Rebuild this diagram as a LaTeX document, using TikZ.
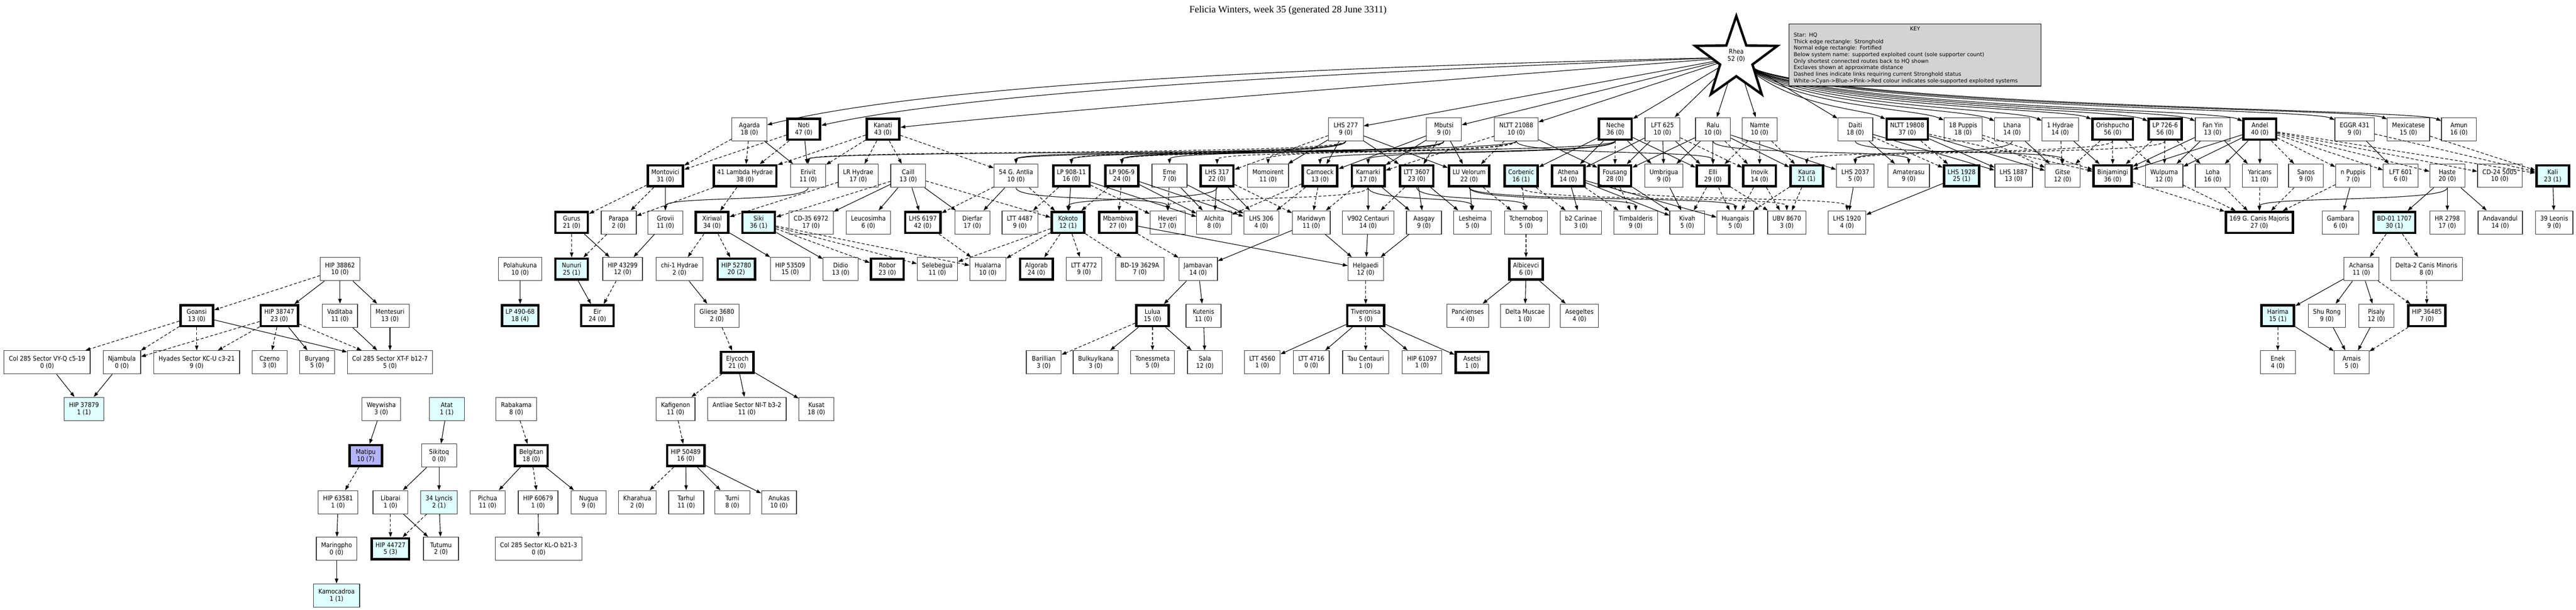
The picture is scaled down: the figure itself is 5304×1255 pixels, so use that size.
\documentclass[tikz,border=0pt]{standalone}
\usepackage{fontspec}
\usetikzlibrary{arrows.meta,calc}
\IfFontExistsTF{DejaVu Sans Condensed}{\newfontfamily\nodefam{DejaVu Sans Condensed}}{\newfontfamily\nodefam[FakeStretch=0.9]{DejaVu Sans}}
\newfontfamily\keyfam{DejaVu Sans}
\newfontfamily\titlefam{Liberation Serif}
\definecolor{lcyan}{HTML}{E0FFFF}
\definecolor{mblue}{HTML}{B4B4FA}
\definecolor{keygray}{HTML}{D3D3D3}
\tikzset{
  sys/.style={draw=black!80, line width=1.3pt, fill=white, minimum width=72pt, minimum height=48pt, inner xsep=10pt, inner ysep=2pt, align=center, font=\nodefam\fontsize{13.3}{14.5}\selectfont},
  sh/.style={sys, draw=black, line width=5pt, minimum width=67pt, minimum height=43pt, inner xsep=7.5pt, outer sep=2.5pt},
  cy/.style={fill=lcyan},
  ln/.style={-{Triangle[length=10pt,width=7pt]}, line width=1.2pt, black},
  dl/.style={ln, dash pattern=on 6pt off 4pt},
}
\newcommand\Es[2]{\draw[ln] (#1) -- (#2);}
\newcommand\Ed[2]{\draw[dl] (#1) -- (#2);}
\newcommand\Cs[2]{\draw[ln] (#1.south) .. controls ($(#1.south)+(0,30)$) and ($(#2.north)+(0,-30)$) .. (#2.north);}
\newcommand\Cd[2]{\draw[dl] (#1.south) .. controls ($(#1.south)+(0,30)$) and ($(#2.north)+(0,-30)$) .. (#2.north);}
\begin{document}
\begin{tikzpicture}[x=1pt,y=-1pt]
\fill[white] (0,0) rectangle (5304,1255);
\useasboundingbox (0,0) rectangle (5304,1255);
\node[font=\titlefam\fontsize{20}{24}\selectfont] (title) at (2652,21) {Felicia Winters, week 35 (generated 28 June 3311)};
\node[inner sep=0pt, minimum size=16pt] (rhea) at (3575,118) {};
% row 1
\node[sys] (agarda) at (1543,266) {Agarda\\18 (0)};
\node[sh] (noti) at (1655,266) {Noti\\47 (0)};
\node[sh] (kanati) at (1818,266) {Kanati\\43 (0)};
\node[sys] (lhsb) at (2771,266) {LHS 277\\9 (0)};
\node[sys] (mbutsi) at (2973,266) {Mbutsi\\9 (0)};
\node[sys] (nltta) at (3122,266) {NLTT 21088\\10 (0)};
\node[sh] (neche) at (3326,266) {Neche\\36 (0)};
\node[sys] (lfta) at (3423,266) {LFT 625\\10 (0)};
\node[sys] (ralu) at (3527,266) {Ralu\\10 (0)};
\node[sys] (namte) at (3623,266) {Namte\\10 (0)};
\node[sys] (daiti) at (3820,266) {Daiti\\18 (0)};
\node[sh] (nlttb) at (3927,266) {NLTT 19808\\37 (0)};
\node[sys] (pupp) at (4042,266) {18 Puppis\\18 (0)};
\node[sys] (lhana) at (4143,266) {Lhana\\14 (0)};
\node[sys] (hyda) at (4242,266) {1 Hydrae\\14 (0)};
\node[sh] (orish) at (4350,266) {Orishpucho\\56 (0)};
\node[sh] (lpsev) at (4458,266) {LP 726-6\\56 (0)};
\node[sys] (fanyin) at (4556,266) {Fan Yin\\13 (0)};
\node[sh] (andel) at (4653,266) {Andel\\40 (0)};
\node[sys] (eggr) at (4848,266) {EGGR 431\\9 (0)};
\node[sys] (mexi) at (4959,266) {Mexicatese\\15 (0)};
\node[sys] (amun) at (5063,266) {Amun\\16 (0)};
% row 2
\node[sh] (montovici) at (1370,362) {Montovici\\31 (0)};
\node[sh] (lambda) at (1534,362) {41 Lambda Hydrae\\38 (0)};
\node[sys] (erivit) at (1664,362) {Erivit\\11 (0)};
\node[sys] (lrhya) at (1767,362) {LR Hydrae\\17 (0)};
\node[sys] (caill) at (1870,362) {Caill\\13 (0)};
\node[sys] (antlia) at (2092,362) {54 G. Antlia\\10 (0)};
\node[sh] (lpa) at (2206,362) {LP 908-11\\16 (0)};
\node[sh] (lpb) at (2310,362) {LP 906-9\\24 (0)};
\node[sys] (eme) at (2408,362) {Eme\\7 (0)};
\node[sh] (lhsc) at (2506,362) {LHS 317\\22 (0)};
\node[sys] (momo) at (2611,362) {Momoirent\\11 (0)};
\node[sh] (carn) at (2718,362) {Carnoeck\\13 (0)};
\node[sh] (karn) at (2817,362) {Karnarki\\17 (0)};
\node[sh] (lttc) at (2917,362) {LTT 3607\\23 (0)};
\node[sh] (luvel) at (3025,362) {LU Velorum\\22 (0)};
\node[sh,cy] (corb) at (3132,362) {Corbenic\\16 (1)};
\node[sh] (athena) at (3229,362) {Athena\\14 (0)};
\node[sh] (fousang) at (3325,362) {Fousang\\28 (0)};
\node[sys] (umbr) at (3426,362) {Umbrigua\\9 (0)};
\node[sh] (elli) at (3527,362) {Elli\\29 (0)};
\node[sh] (inovik) at (3623,362) {Inovik\\14 (0)};
\node[sh,cy] (kaura) at (3720,362) {Kaura\\21 (1)};
\node[sys] (lhsd) at (3820,362) {LHS 2037\\5 (0)};
\node[sys] (amat) at (3930,362) {Amaterasu\\9 (0)};
\node[sh,cy] (lhsf) at (4039,362) {LHS 1928\\25 (1)};
\node[sys] (lhse) at (4146,362) {LHS 1887\\13 (0)};
\node[sys] (gitse) at (4247,362) {Gitse\\12 (0)};
\node[sh] (binj) at (4350,362) {Binjamingi\\36 (0)};
\node[sys] (wulp) at (4456,362) {Wulpurna\\12 (0)};
\node[sys] (loha) at (4556,362) {Loha\\16 (0)};
\node[sys] (yari) at (4653,362) {Yaricans\\11 (0)};
\node[sys] (sanos) at (4748,362) {Sanos\\9 (0)};
\node[sys] (npup) at (4845,362) {n Puppis\\7 (0)};
\node[sys] (lftb) at (4943,362) {LFT 601\\6 (0)};
\node[sys] (haste) at (5039,362) {Haste\\20 (0)};
\node[sys] (cdb) at (5147,362) {CD-24 5005\\10 (0)};
\node[sh,cy] (kali) at (5256,362) {Kali\\23 (1)};
% row 3
\node[sh] (gurus) at (1177,458) {Gurus\\21 (0)};
\node[sys] (parapa) at (1274,458) {Parapa\\2 (0)};
\node[sys] (grovii) at (1370,458) {Grovii\\11 (0)};
\node[sh] (xiriwal) at (1466,458) {Xiriwal\\34 (0)};
\node[sh,cy] (siki) at (1562,458) {Siki\\36 (1)};
\node[sys] (cda) at (1670,458) {CD-35 6972\\17 (0)};
\node[sys] (leuco) at (1788,458) {Leucosimha\\6 (0)};
\node[sh] (lhsg) at (1900,458) {LHS 6197\\42 (0)};
\node[sys] (dierfar) at (2002,458) {Dierfar\\17 (0)};
\node[sys] (lttd) at (2100,458) {LTT 4487\\9 (0)};
\node[sh,cy] (kokoto) at (2199,458) {Kokoto\\12 (1)};
\node[sh] (mbamb) at (2302,458) {Mbambiva\\27 (0)};
\node[sys] (heveri) at (2404,458) {Heveri\\17 (0)};
\node[sys] (alchita) at (2500,458) {Alchita\\8 (0)};
\node[sys] (lhsh) at (2597,458) {LHS 306\\4 (0)};
\node[sys] (marid) at (2700,458) {Maridwyn\\11 (0)};
\node[sys] (vcen) at (2817,458) {V902 Centauri\\14 (0)};
\node[sys] (aasgay) at (2932,458) {Aasgay\\9 (0)};
\node[sys] (lesh) at (3032,458) {Lesheima\\5 (0)};
\node[sys] (tcher) at (3142,458) {Tchernobog\\5 (0)};
\node[sys] (btwo) at (3255,458) {b2 Carinae\\3 (0)};
\node[sys] (timb) at (3368,458) {Timbalderis\\9 (0)};
\node[sys] (kivah) at (3474,458) {Kivah\\5 (0)};
\node[sys] (huang) at (3573,458) {Huangais\\5 (0)};
\node[sys] (ubv) at (3679,458) {UBV 8670\\3 (0)};
\node[sys] (lhsi) at (3803,458) {LHS 1920\\4 (0)};
\node[sh] (cma) at (4652,458) {169 G. Canis Majoris\\27 (0)};
\node[sys] (gamb) at (4819,458) {Gambara\\6 (0)};
\node[sh,cy] (bdo) at (4930,458) {BD-01 1707\\30 (1)};
\node[sys] (hr) at (5039,458) {HR 2798\\17 (0)};
\node[sys] (andav) at (5148,458) {Andavandul\\14 (0)};
\node[sys] (leo) at (5259,458) {39 Leonis\\9 (0)};
% row 4
\node[sys] (hipa) at (700,554) {HIP 38862\\10 (0)};
\node[sys] (polah) at (1071,554) {Polahukuna\\10 (0)};
\node[sh,cy] (nunuri) at (1177,554) {Nunuri\\25 (1)};
\node[sys] (hipb) at (1282,554) {HIP 43299\\12 (0)};
\node[sys] (chi) at (1399,554) {chi-1 Hydrae\\2 (0)};
\node[sh,cy] (hipc) at (1516,554) {HIP 52780\\20 (2)};
\node[sys] (hipd) at (1627,554) {HIP 53509\\15 (0)};
\node[sys] (didio) at (1731,554) {Didio\\13 (0)};
\node[sh] (robor) at (1827,554) {Robor\\23 (0)};
\node[sys] (seleb) at (1930,554) {Selebegua\\11 (0)};
\node[sys] (hual) at (2034,554) {Hualarna\\10 (0)};
\node[sh] (algorab) at (2134,554) {Algorab\\24 (0)};
\node[sys] (ltte) at (2232,554) {LTT 4772\\9 (0)};
\node[sys] (bdn) at (2347,554) {BD-19 3629A\\7 (0)};
\node[sys] (jamb) at (2467,554) {Jambavan\\14 (0)};
\node[sys] (helg) at (2812,554) {Helgaedi\\12 (0)};
\node[sh] (albi) at (3142,554) {Albicevci\\6 (0)};
\node[sys] (achansa) at (4862,554) {Achansa\\11 (0)};
\node[sys] (deltacmi) at (4996,554) {Delta-2 Canis Minoris\\8 (0)};
% row 5
\node[sh] (goansi) at (405,650) {Goansi\\13 (0)};
\node[sh] (hipe) at (575,650) {HIP 38747\\23 (0)};
\node[sys] (vadi) at (700,650) {Vaditaba\\11 (0)};
\node[sys] (mente) at (803,650) {Mentesuri\\13 (0)};
\node[sh,cy] (lpc) at (1071,650) {LP 490-68\\18 (4)};
\node[sh] (eir) at (1230,650) {Eir\\24 (0)};
\node[sys] (gliese) at (1476,650) {Gliese 3680\\2 (0)};
\node[sh] (lulua) at (2373,650) {Lulua\\15 (0)};
\node[sys] (kutenis) at (2478,650) {Kutenis\\11 (0)};
\node[sh] (tiver) at (2812,650) {Tiveronisa\\5 (0)};
\node[sys] (panc) at (3022,650) {Pancienses\\4 (0)};
\node[sys] (delmus) at (3140,650) {Delta Muscae\\1 (0)};
\node[sys] (aseg) at (3252,650) {Asegeltes\\4 (0)};
\node[sh,cy] (harima) at (4690,650) {Harima\\15 (1)};
\node[sys] (shurong) at (4791,650) {Shu Rong\\9 (0)};
\node[sys] (pisaly) at (4893,650) {Pisaly\\12 (0)};
\node[sh] (hipf) at (4997,650) {HIP 36485\\7 (0)};
% row 6
\node[sys] (colvy) at (97,746) {Col 285 Sector VY-Q c5-19\\0 (0)};
\node[sys] (njamb) at (251,746) {Njambula\\0 (0)};
\node[sys] (hyades) at (405,746) {Hyades Sector KC-U c3-21\\9 (0)};
\node[sys] (czerno) at (555,746) {Czerno\\3 (0)};
\node[sys] (buryang) at (653,746) {Buryang\\5 (0)};
\node[sys] (colxt) at (803,746) {Col 285 Sector XT-F b12-7\\5 (0)};
\node[sh] (elycoch) at (1518,746) {Elycoch\\21 (0)};
\node[sys] (barill) at (2149,746) {Barillian\\3 (0)};
\node[sys] (bulk) at (2256,746) {Bulkuylkana\\3 (0)};
\node[sys] (toness) at (2373,746) {Tonessmeta\\5 (0)};
\node[sys] (sala) at (2481,746) {Sala\\12 (0)};
\node[sys] (lttf) at (2599,746) {LTT 4560\\1 (0)};
\node[sys] (lttg) at (2700,746) {LTT 4716\\0 (0)};
\node[sys] (taucen) at (2812,746) {Tau Centauri\\1 (0)};
\node[sys] (hipg) at (2928,746) {HIP 61097\\1 (0)};
\node[sh] (asetsi) at (3031,746) {Asetsi\\1 (0)};
\node[sys] (enek) at (4690,746) {Enek\\4 (0)};
\node[sys] (arnais) at (4842,746) {Arnais\\5 (0)};
% row 7
\node[sys,cy] (hipj) at (173,842) {HIP 37879\\1 (1)};
\node[sys] (weyw) at (785,842) {Weywisha\\3 (0)};
\node[sys,cy] (atat) at (920,842) {Atat\\1 (1)};
\node[sys] (rabak) at (1063,842) {Rabakama\\8 (0)};
\node[sys] (kafig) at (1391,842) {Kafigenon\\11 (0)};
\node[sys] (antni) at (1538,842) {Antliae Sector NI-T b3-2\\11 (0)};
\node[sys] (kusat) at (1681,842) {Kusat\\18 (0)};
% row 8
\node[sh,fill=mblue] (matipu) at (753,938) {Matipu\\10 (7)};
\node[sys] (sikitoq) at (904,938) {Sikitoq\\0 (0)};
\node[sh] (belgitan) at (1094,938) {Belgitan\\18 (0)};
\node[sh] (hipk) at (1412,938) {HIP 50489\\16 (0)};
% row 9
\node[sys] (hipl) at (696,1034) {HIP 63581\\1 (0)};
\node[sys] (libarai) at (804,1034) {Libarai\\1 (0)};
\node[sys,cy] (lyncis) at (904,1034) {34 Lyncis\\2 (1)};
\node[sys] (pichua) at (1004,1034) {Pichua\\11 (0)};
\node[sys] (hipm) at (1108,1034) {HIP 60679\\1 (0)};
\node[sys] (nugua) at (1212,1034) {Nugua\\9 (0)};
\node[sys] (khara) at (1312,1034) {Kharahua\\2 (0)};
\node[sys] (tarhul) at (1413,1034) {Tarhul\\11 (0)};
\node[sys] (turni) at (1508,1034) {Turni\\8 (0)};
\node[sys] (anukas) at (1604,1034) {Anukas\\10 (0)};
% row 10
\node[sys] (maring) at (693,1130) {Maringpho\\0 (0)};
\node[sh,cy] (hipn) at (804,1130) {HIP 44727\\5 (3)};
\node[sys] (tutumu) at (908,1130) {Tutumu\\2 (0)};
\node[sys] (colkl) at (1109,1130) {Col 285 Sector KL-O b21-3\\0 (0)};
% row 11
\node[sys,cy] (kamo) at (693,1226) {Kamocadroa\\1 (1)};
% Rhea edges
\draw[ln] (rhea) .. controls (2600,140) and (1900,178) .. (agarda);
\draw[ln] (rhea) .. controls (2700,150) and (2000,190) .. (noti);
\draw[ln] (rhea) .. controls (2900,170) and (2150,230) .. (kanati);
\foreach \t in {lhsb,mbutsi,nltta,neche,lfta,ralu,namte,daiti} \draw[ln] (rhea) -- (\t);
\foreach \t/\xx in {nlttb/3927,pupp/4042,lhana/4143,hyda/4242,orish/4350,lpsev/4458,fanyin/4556,andel/4653,eggr/4848,mexi/4959,amun/5063}
  \draw[ln] (rhea) .. controls (3680,222) and (\xx-95,222) .. (\t);
% star
\draw[line width=5pt, line join=miter, fill=white] (3575,33) -- (3595.6,93.7) -- (3659.6,94.5) -- (3608.3,132.8) -- (3627.3,194) -- (3575,157) -- (3522.7,194) -- (3541.7,132.8) -- (3490.4,94.5) -- (3554.4,93.7) -- cycle;
\node[align=center, font=\nodefam\fontsize{13.3}{14.5}\selectfont] (rhealabel) at (3575,114) {Rhea\\52 (0)};
% key
\node[draw=black, line width=1.3pt, fill=keygray, anchor=north west, text width=500pt, inner xsep=9.5pt, inner ysep=5pt, align=left, font=\keyfam\fontsize{11}{13.4}\selectfont] (key) at (3683,49) {\makebox[500pt][c]{KEY}\\Star: HQ\\Thick edge rectangle: Stronghold\\Normal edge rectangle: Fortified\\Below system name: supported exploited count (sole supporter count)\\Only shortest connected routes back to HQ shown\\Exclaves shown at approximate distance\\Dashed lines indicate links requiring current Stronghold status\\White->Cyan->Blue->Pink->Red colour indicates sole-supported exploited systems};
% row1 -> row2
\Ed{agarda}{montovici} \Ed{agarda}{lambda} \Es{agarda}{erivit}
\Ed{noti}{montovici} \Ed{noti}{lambda} \Es{noti}{erivit}
\Ed{kanati}{lambda} \Ed{kanati}{erivit} \Ed{kanati}{lrhya} \Ed{kanati}{caill} \Ed{kanati}{antlia}
\Cd{lhsb}{erivit} \Cs{lhsb}{antlia} \Cd{lhsb}{lpa} \Cs{lhsb}{lpb} \Ed{lhsb}{lhsc} \Es{lhsb}{momo} \Es{lhsb}{carn} \Es{lhsb}{lttc} \Es{lhsb}{luvel}
\Cs{mbutsi}{lpa} \Cs{mbutsi}{lpb} \Cs{mbutsi}{eme} \Cd{mbutsi}{momo} \Es{mbutsi}{carn} \Es{mbutsi}{karn} \Ed{mbutsi}{lttc} \Es{mbutsi}{luvel}
\Cs{nltta}{erivit} \Cd{nltta}{lpb} \Cd{nltta}{lhsc} \Ed{nltta}{karn} \Ed{nltta}{luvel} \Es{nltta}{fousang} \Cs{nltta}{elli}
\Cs{neche}{antlia} \Cs{neche}{carn} \Cs{neche}{karn} \Es{neche}{corb} \Es{neche}{athena} \Ed{neche}{fousang} \Es{neche}{umbr} \Es{neche}{elli}
\Es{lfta}{fousang} \Es{lfta}{umbr} \Es{lfta}{elli} \Es{lfta}{athena} \Ed{lfta}{inovik}
\Es{ralu}{umbr} \Es{ralu}{elli} \Es{ralu}{fousang} \Es{ralu}{kaura} \Es{ralu}{lhsd} \Ed{ralu}{inovik} \Cs{ralu}{amat}
\Ed{namte}{elli} \Ed{namte}{inovik} \Ed{namte}{kaura}
\Es{daiti}{lhse} \Cs{daiti}{gitse} \Es{daiti}{amat} \Ed{daiti}{lhsf}
\Ed{nlttb}{lhsf} \Es{nlttb}{lhse} \Es{nlttb}{gitse} \Ed{nlttb}{binj}
\Ed{pupp}{gitse} \Ed{pupp}{binj}
\Es{lhana}{gitse} \Cs{lhana}{lhsd}
\Es{hyda}{binj} \Ed{hyda}{gitse}
\Ed{orish}{binj} \Ed{orish}{gitse} \Ed{orish}{wulp} \Cd{orish}{kaura}
\Ed{lpsev}{binj} \Ed{lpsev}{wulp} \Ed{lpsev}{loha} \Cd{lpsev}{lhsd}
\Es{fanyin}{binj} \Es{fanyin}{wulp} \Es{fanyin}{yari}
\Es{andel}{binj} \Es{andel}{wulp} \Es{andel}{loha} \Es{andel}{yari} \Ed{andel}{sanos} \Ed{andel}{npup} \Ed{andel}{lftb} \Ed{andel}{haste} \Ed{andel}{cdb} \Ed{andel}{kali}
\Es{eggr}{lftb} \Ed{eggr}{kali}
\Ed{mexi}{kali}
% row2 -> row3
\Ed{montovici}{gurus} \Ed{montovici}{parapa} \Es{montovici}{grovii}
\Ed{lambda}{parapa} \Ed{lambda}{xiriwal}
\Cs{erivit}{grovii}
\Ed{lrhya}{xiriwal}
\Ed{caill}{siki} \Es{caill}{cda} \Es{caill}{leuco} \Es{caill}{lhsg} \Es{caill}{dierfar} \Ed{caill}{kokoto}
\Ed{antlia}{lhsg} \Es{antlia}{dierfar} \Ed{antlia}{kokoto} \Cs{antlia}{heveri}
\Ed{lpa}{lttd} \Es{lpa}{kokoto} \Ed{lpa}{heveri} \Es{lpa}{alchita}
\Ed{lpb}{kokoto} \Ed{lpb}{mbamb} \Es{lpb}{alchita} \Es{lpb}{lhsh}
\Ed{eme}{heveri} \Es{eme}{alchita} \Es{eme}{lhsh}
\Cs{lhsc}{kokoto} \Es{lhsc}{alchita} \Es{lhsc}{lhsh} \Ed{lhsc}{marid}
\Ed{carn}{lhsh} \Ed{carn}{alchita} \Ed{carn}{marid}
\Ed{karn}{marid} \Es{karn}{vcen} \Es{karn}{aasgay} \Cs{karn}{lesh} \Cd{karn}{heveri}
\Ed{lttc}{vcen} \Es{lttc}{aasgay} \Es{lttc}{lesh} \Cs{lttc}{tcher}
\Es{luvel}{lesh} \Ed{luvel}{tcher} \Cs{luvel}{timb} \Cs{luvel}{huang}
\Ed{corb}{tcher} \Ed{corb}{btwo} \Cd{corb}{ubv}
\Es{athena}{btwo} \Ed{athena}{timb} \Es{athena}{kivah} \Es{athena}{huang}
\Ed{fousang}{timb} \Es{fousang}{kivah} \Cd{fousang}{lhsi}
\Es{umbr}{kivah}
\Ed{elli}{kivah} \Ed{elli}{huang} \Ed{elli}{ubv}
\Ed{inovik}{huang} \Ed{inovik}{ubv}
\Ed{kaura}{ubv} \Ed{kaura}{huang}
\Es{lhsd}{lhsi} \Es{lhsf}{lhsi}
\Ed{binj}{cma} \Ed{wulp}{cma} \Ed{loha}{cma} \Ed{yari}{cma} \Ed{sanos}{cma} \Ed{npup}{cma} \Cs{haste}{cma}
\Es{npup}{gamb} \Es{haste}{bdo} \Es{haste}{hr} \Es{haste}{andav} \Es{kali}{leo}
% row3 -> row4
\Ed{gurus}{nunuri} \Es{gurus}{hipb} \Ed{parapa}{nunuri} \Es{grovii}{hipb}
\Ed{xiriwal}{chi} \Ed{xiriwal}{hipc} \Es{xiriwal}{hipd}
\Es{siki}{didio} \Ed{siki}{robor} \Ed{siki}{seleb} \Ed{siki}{hual}
\Ed{lhsg}{hual}
\Ed{kokoto}{seleb} \Ed{kokoto}{hual} \Ed{kokoto}{algorab} \Ed{kokoto}{ltte} \Ed{kokoto}{bdn}
\Ed{mbamb}{jamb} \Es{mbamb}{helg}
\Es{marid}{jamb} \Es{marid}{helg} \Es{vcen}{helg} \Es{aasgay}{helg}
\Ed{tcher}{albi}
\Ed{bdo}{achansa} \Ed{bdo}{deltacmi}
% row4 -> row5
\Ed{hipa}{goansi} \Es{hipa}{hipe} \Es{hipa}{vadi} \Es{hipa}{mente}
\Es{polah}{lpc}
\Es{nunuri}{eir} \Ed{hipb}{eir}
\Es{chi}{gliese}
\Es{jamb}{lulua} \Es{jamb}{kutenis}
\Ed{helg}{tiver}
\Es{albi}{panc} \Es{albi}{delmus} \Es{albi}{aseg}
\Es{achansa}{harima} \Es{achansa}{shurong} \Es{achansa}{pisaly} \Ed{achansa}{hipf}
\Ed{deltacmi}{hipf}
% row5 -> row6
\Ed{goansi}{colvy} \Ed{goansi}{njamb} \Ed{goansi}{hyades} \Es{goansi}{colxt}
\Ed{hipe}{njamb} \Ed{hipe}{hyades} \Ed{hipe}{czerno} \Es{hipe}{buryang} \Ed{hipe}{colxt}
\Es{vadi}{colxt} \Es{mente}{colxt}
\Ed{gliese}{elycoch}
\Ed{lulua}{barill} \Es{lulua}{bulk} \Ed{lulua}{toness} \Es{lulua}{sala}
\Es{kutenis}{sala}
\Es{tiver}{lttf} \Es{tiver}{lttg} \Ed{tiver}{taucen} \Es{tiver}{hipg} \Es{tiver}{asetsi}
\Ed{harima}{enek} \Es{harima}{arnais} \Es{shurong}{arnais} \Es{pisaly}{arnais} \Ed{hipf}{arnais}
% lower rows
\Es{colvy}{hipj} \Es{njamb}{hipj}
\Ed{elycoch}{kafig} \Es{elycoch}{antni} \Es{elycoch}{kusat}
\Es{weyw}{matipu} \Es{atat}{sikitoq} \Ed{rabak}{belgitan} \Ed{kafig}{hipk}
\Ed{matipu}{hipl} \Es{sikitoq}{libarai} \Es{sikitoq}{lyncis}
\Es{belgitan}{pichua} \Ed{belgitan}{hipm} \Es{belgitan}{nugua}
\Ed{hipk}{khara} \Es{hipk}{tarhul} \Es{hipk}{turni} \Es{hipk}{anukas}
\Es{hipl}{maring} \Ed{libarai}{hipn} \Es{libarai}{tutumu} \Ed{lyncis}{hipn} \Es{lyncis}{tutumu}
\Es{hipm}{colkl}
\Es{maring}{kamo}
\end{tikzpicture}
\end{document}
